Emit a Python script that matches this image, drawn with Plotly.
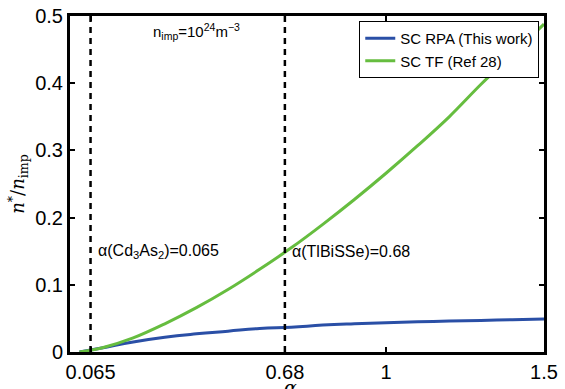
import plotly.graph_objects as go

alpha = [0.03, 0.1, 0.2, 0.3, 0.4, 0.5, 0.6, 0.7, 0.8, 0.9, 1.0, 1.1, 1.2, 1.3, 1.4, 1.5]
sc_rpa = [0.0, 0.006, 0.015, 0.022, 0.027, 0.031, 0.035, 0.037, 0.040, 0.042, 0.0436, 0.045, 0.046, 0.047, 0.048, 0.049]
sc_tf = [0.0, 0.006, 0.021, 0.042, 0.066, 0.093, 0.123, 0.155, 0.190, 0.227, 0.266, 0.307, 0.350, 0.398, 0.443, 0.488]

x_ticks = [0.065, 0.68, 1, 1.5]
x_ticklabels = ["0.065", "0.68", "1", "1.5"]
y_ticks = [0, 0.1, 0.2, 0.3, 0.4, 0.5]
y_ticklabels = ["0", "0.1", "0.2", "0.3", "0.4", "0.5"]
markers = [0.065, 0.68]

fig = go.Figure()
fig.add_trace(go.Scatter(x=alpha, y=sc_rpa, mode="lines", name="SC RPA (This work)",
                         line=dict(color="#2a4fa6", width=3, shape="spline", smoothing=1.3)))
fig.add_trace(go.Scatter(x=alpha, y=sc_tf, mode="lines", name="SC TF (Ref 28)",
                         line=dict(color="#66bd3f", width=3, shape="spline")))

for m in markers:
    fig.add_shape(type="line", x0=m, x1=m, y0=0, y1=0.5, xref="x", yref="y",
                  line=dict(color="black", width=2.5, dash="6px,5px"))

fig.add_annotation(x=0.4, y=0.5, yshift=-3, xref="x", yref="y", showarrow=False,
                   text="n<sub>imp</sub>=10<sup>24</sup>m<sup>−3</sup>", yanchor="top",
                   font=dict(size=15, color="black"))
fig.add_annotation(x=0.065, y=0.15, xshift=5, xref="x", yref="y", showarrow=False,
                   text="α(Cd<sub>3</sub>As<sub>2</sub>)=0.065", xanchor="left",
                   font=dict(size=16, color="black"))
fig.add_annotation(x=0.68, y=0.15, xshift=5, xref="x", yref="y", showarrow=False,
                   text="α(TlBiSSe)=0.68", xanchor="left",
                   font=dict(size=16, color="black"))
# x-axis title (partly clipped at the bottom, as in the reference)
fig.add_annotation(x=0.465, y=-0.105, xref="paper", yref="paper", showarrow=False,
                   text="<i>α</i>", yanchor="middle",
                   font=dict(size=19, family="DejaVu Serif", color="black"))

axis_common = dict(showgrid=False, zeroline=False, showline=True, linecolor="black",
                   linewidth=3, mirror="ticks", ticks="inside", ticklen=5, tickwidth=2,
                   tickcolor="black", tickfont=dict(size=20, color="black"), automargin=False)

fig.update_xaxes(range=[0, 1.5], tickvals=x_ticks, ticktext=x_ticklabels, **axis_common)
fig.update_yaxes(range=[0, 0.5], tickvals=y_ticks, ticktext=y_ticklabels,
                 title=dict(text="<i>n</i><sup>*</sup>/<i>n</i><sub>imp</sub>",
                            font=dict(size=18, family="DejaVu Serif", color="black"), standoff=6),
                 **axis_common)

fig.update_layout(
    width=565, height=389,
    margin=dict(l=70, r=21, t=16, b=37),
    paper_bgcolor="white", plot_bgcolor="white",
    font=dict(family="Liberation Sans, Arial, sans-serif", color="black"),
    legend=dict(x=0.99, y=0.985, xanchor="right", yanchor="top",
                bordercolor="black", borderwidth=1, bgcolor="white",
                font=dict(size=15), tracegroupgap=0, itemwidth=30),
)

fig.write_html("out.html")
